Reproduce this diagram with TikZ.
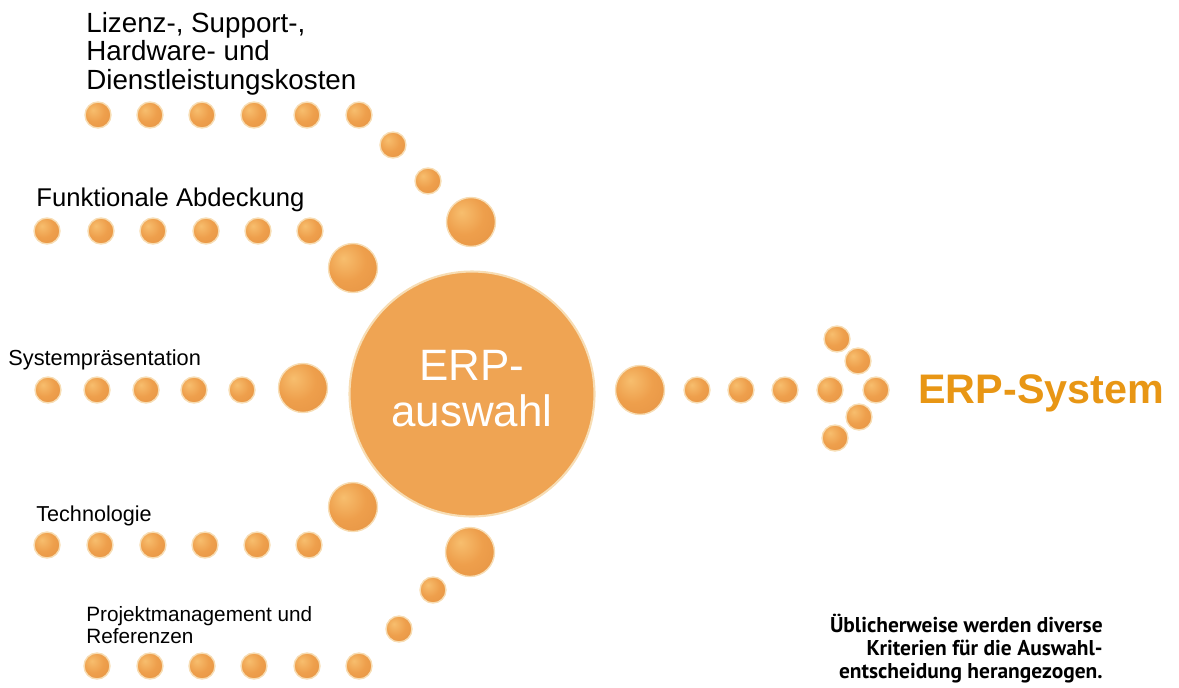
\documentclass[tikz,border=0pt]{standalone}
\usepackage{fontspec}
\setmainfont{Liberation Sans}
\newfontfamily\notefont{PT Sans}
\usepackage{xcolor}

\definecolor{dotlite}{HTML}{F7BE6E}
\definecolor{dotmid}{HTML}{EE9F4C}
\definecolor{dotdark}{HTML}{E28F40}
\definecolor{dotrim}{HTML}{F7DDB4}
\definecolor{hubfill}{HTML}{EFA453}
\definecolor{erporange}{RGB}{232,150,20}

\pgfdeclareradialshading{dotshade}{\pgfpoint{-10bp}{10bp}}{%
  color(0bp)=(dotlite); color(20bp)=(dotmid); color(50bp)=(dotdark); color(72bp)=(dotdark)}

\begin{document}
\begin{tikzpicture}[x=0.02cm, y=-0.02cm,
    dot/.style={shape=circle, inner sep=0pt, minimum size=0.52cm, shading=dotshade, draw=dotrim, line width=0.8pt},
    bub/.style={dot, minimum size=0.98cm},
    hub/.style={shape=circle, inner sep=0pt, minimum size=4.9cm, fill=hubfill, draw=dotrim, line width=1.2pt},
    lbl/.style={anchor=base west, inner sep=0pt, align=left}]
    \useasboundingbox (0,0) rectangle (1179,687);

    % labels of the criteria (base = last line)
    \node[lbl, font=\fontsize{15.8}{16.2}\selectfont] (kosten) at (86,89) {Lizenz-, Support-,\\Hardware- und\\Dienstleistungskosten};
    \node[lbl, font=\fontsize{14.6}{15}\selectfont] (funktion) at (36,206) {Funktionale Abdeckung};
    \node[lbl, font=\fontsize{12.4}{13}\selectfont] (praes) at (8,365) {Systempräsentation};
    \node[lbl, font=\fontsize{12.3}{13}\selectfont] (technik) at (36,521) {Technologie};
    \node[lbl, font=\fontsize{11.8}{12.5}\selectfont] (projekt) at (86,643) {Projektmanagement und\\Referenzen};

    % row 1
    \node[dot] (k1) at (98,115) {};
    \node[dot] (k2) at (150,115) {};
    \node[dot] (k3) at (202,115) {};
    \node[dot] (k4) at (254,115) {};
    \node[dot] (k5) at (307,115) {};
    \node[dot] (k6) at (359,115) {};
    \node[dot] (k7) at (393,145) {};
    \node[dot] (k8) at (428,181) {};
    \node[bub] (k9) at (471,222) {};

    % row 2
    \node[dot] (f1) at (47,231) {};
    \node[dot] (f2) at (101,231) {};
    \node[dot] (f3) at (153,231) {};
    \node[dot] (f4) at (206,231) {};
    \node[dot] (f5) at (258,231) {};
    \node[dot] (f6) at (310,231) {};
    \node[bub] (f7) at (353,268) {};

    % row 3
    \node[dot] (s1) at (48,390) {};
    \node[dot] (s2) at (97,390) {};
    \node[dot] (s3) at (146,390) {};
    \node[dot] (s4) at (194,390) {};
    \node[dot] (s5) at (242,390) {};
    \node[bub] (s6) at (303,388) {};

    % row 4
    \node[dot] (t1) at (47,545) {};
    \node[dot] (t2) at (100,545) {};
    \node[dot] (t3) at (153,545) {};
    \node[dot] (t4) at (205,545) {};
    \node[dot] (t5) at (257,545) {};
    \node[dot] (t6) at (309,545) {};
    \node[bub] (t7) at (353,507) {};

    % row 5
    \node[dot] (p1) at (97,666) {};
    \node[dot] (p2) at (150,666) {};
    \node[dot] (p3) at (202,666) {};
    \node[dot] (p4) at (254,666) {};
    \node[dot] (p5) at (307,666) {};
    \node[dot] (p6) at (359,666) {};
    \node[dot] (p7) at (399,629) {};
    \node[dot] (p8) at (433,590) {};
    \node[bub] (p9) at (470,552) {};

    % the big one in the middle
    \node[hub] (hub) at (472,394) {};
    \node[anchor=base, text=white, align=center, font=\fontsize{25}{26}\selectfont] (hubtext) at (472,426) {ERP-\\auswahl};

    % arrow to the result
    \node[bub] (e0) at (640,390) {};
    \node[dot] (e1) at (697,390) {};
    \node[dot] (e2) at (741,390) {};
    \node[dot] (e3) at (785,390) {};
    \node[dot] (e4) at (830,390) {};
    \node[dot] (e5) at (876,390) {};
    \node[dot] (e6) at (837,339) {};
    \node[dot] (e7) at (858,361) {};
    \node[dot] (e8) at (859,417) {};
    \node[dot] (e9) at (835,438) {};

    \node[lbl, text=erporange, font=\bfseries\fontsize{23.5}{24}\selectfont] (system) at (918,403) {ERP-System};

    \node[anchor=base east, inner sep=0pt, align=right, font=\notefont\bfseries\fontsize{12.2}{13}\selectfont] (note) at (1103,678)
      {Üblicherweise werden diverse\\Kriterien für die Auswahl-\\entscheidung herangezogen.};
\end{tikzpicture}
\end{document}
